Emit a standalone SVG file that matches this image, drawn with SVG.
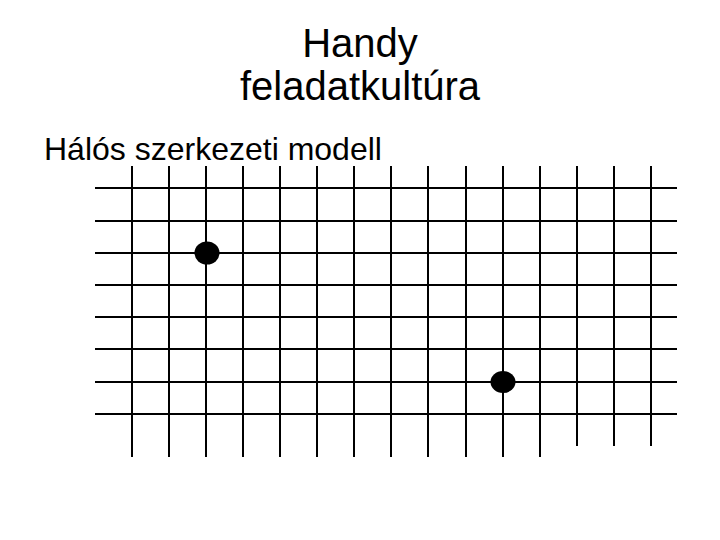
<svg xmlns="http://www.w3.org/2000/svg" width="720" height="540" viewBox="0 0 720 540">
<style>
.t{font-family:"Liberation Sans",Arial,sans-serif;fill:#000}
.g line{stroke:#000;stroke-width:2}
.dot{fill:#000}
</style>
<rect width="720" height="540" fill="#fff"/>
<g id="title">
<text class="t" x="360" y="57" font-size="40" text-anchor="middle">Handy</text>
<text class="t" x="360" y="100" font-size="40" text-anchor="middle">feladatkultúra</text>
</g>
<g id="subtitle">
<text class="t" x="44" y="160" font-size="32">Hálós szerkezeti modell</text>
</g>
<g id="grid" class="g">
<line x1="132" y1="166" x2="132" y2="457"/>
<line x1="169" y1="166" x2="169" y2="457"/>
<line x1="206" y1="166" x2="206" y2="457"/>
<line x1="243" y1="166" x2="243" y2="457"/>
<line x1="280" y1="166" x2="280" y2="457"/>
<line x1="317" y1="166" x2="317" y2="457"/>
<line x1="354" y1="166" x2="354" y2="457"/>
<line x1="391" y1="166" x2="391" y2="457"/>
<line x1="428" y1="166" x2="428" y2="457"/>
<line x1="466" y1="166" x2="466" y2="457"/>
<line x1="503" y1="166" x2="503" y2="457"/>
<line x1="540" y1="166" x2="540" y2="457"/>
<line x1="577" y1="166" x2="577" y2="446"/>
<line x1="614" y1="166" x2="614" y2="446"/>
<line x1="651" y1="166" x2="651" y2="446"/>
<line x1="95" y1="188" x2="677" y2="188"/>
<line x1="95" y1="221" x2="677" y2="221"/>
<line x1="95" y1="253" x2="677" y2="253"/>
<line x1="95" y1="285" x2="677" y2="285"/>
<line x1="95" y1="317" x2="677" y2="317"/>
<line x1="95" y1="349" x2="677" y2="349"/>
<line x1="95" y1="382" x2="677" y2="382"/>
<line x1="95" y1="414" x2="677" y2="414"/>
</g>
<g id="node-a"><ellipse class="dot" cx="207" cy="253" rx="12.5" ry="11.5"/></g>
<g id="node-b"><ellipse class="dot" cx="503" cy="382" rx="12.5" ry="11"/></g>
</svg>
